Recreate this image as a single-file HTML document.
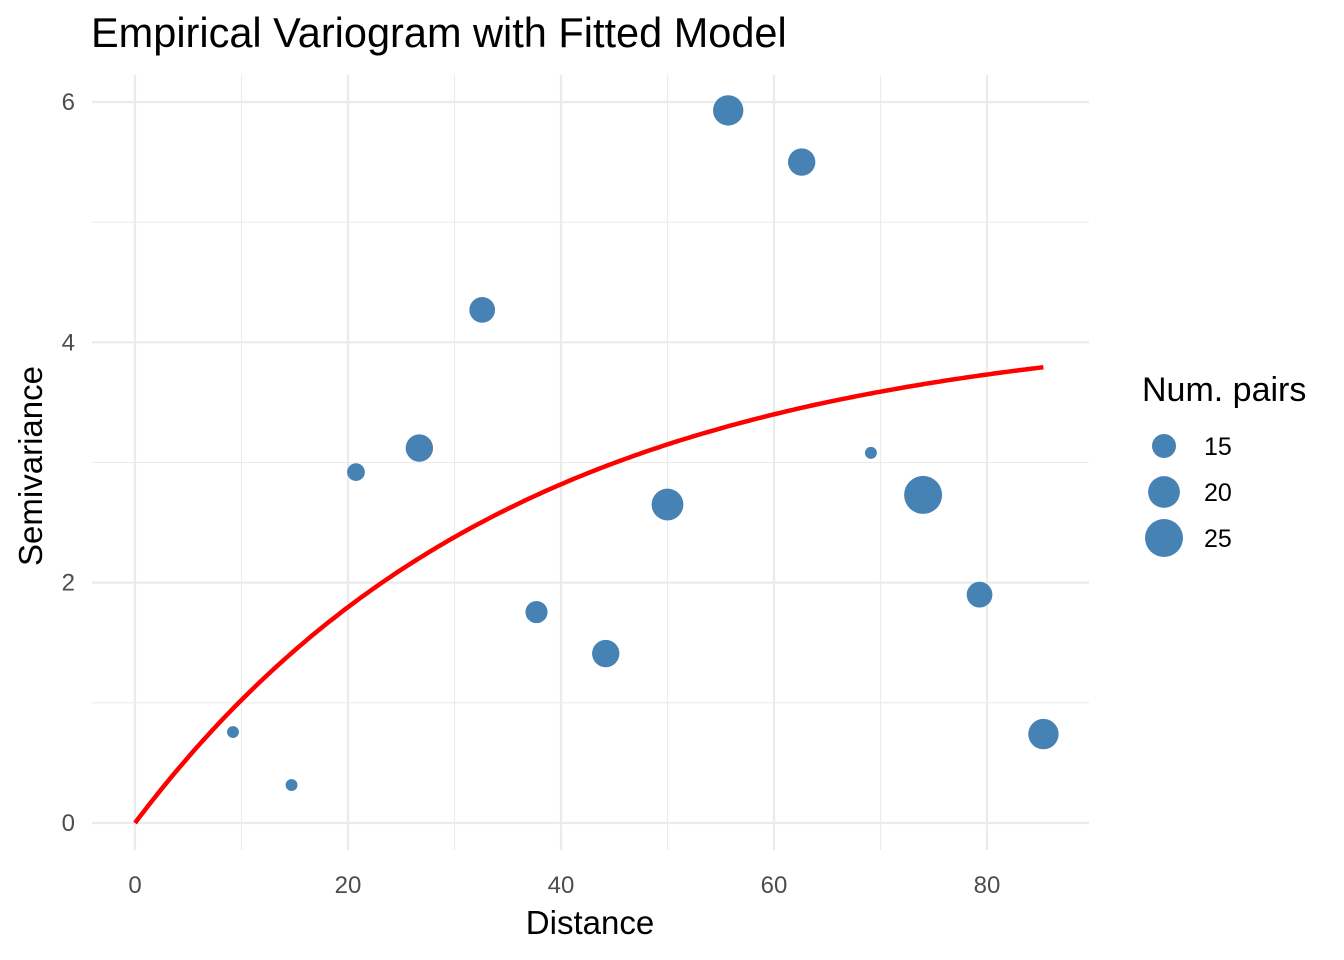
<!DOCTYPE html>
<html><head><meta charset="utf-8"><style>
body{margin:0;background:#fff;}
svg{display:block;font-family:"Liberation Sans",sans-serif;}
</style></head><body>
<svg id="chart" width="1344" height="960">
<text x="91" y="47" style="font-size:41.5px" fill="#000">Empirical Variogram with Fitted Model</text>
<g id="grid"></g><g id="curve"></g><g id="pts"></g><g id="axes"></g>
<text x="590" y="934" style="font-size:33px" text-anchor="middle" fill="#000">Distance</text>
<text transform="translate(42,466) rotate(-90)" style="font-size:33px" text-anchor="middle" fill="#000">Semivariance</text>
<g id="legend">
<text x="1142" y="401" style="font-size:34px" fill="#000">Num. pairs</text>
</g>
</svg>
<script>
const dist=[9.2,14.7,20.75,26.7,32.6,37.7,44.2,50.0,55.7,62.6,69.1,74.0,79.3,85.3];
const gamma=[0.757,0.316,2.92,3.12,4.27,1.755,1.41,2.65,5.93,5.50,3.08,2.73,1.90,0.74];
const npairs=[10,10,12,17,16,14,17,20,19,17,10,25,16,19];
const xTicks=[0,20,40,60,80];
const yTicks=[0,2,4,6];
const legendVals=[15,20,25];
const sill=4.17, range=35.5, hMax=85.3;
const NS="http://www.w3.org/2000/svg";
const X=v=>135+v*10.65, Y=v=>823-v*120.17;
const R=n=>Math.sqrt(Math.max(16,144+21.7*(n-15)));
function mk(p,tag,a){const e=document.createElementNS(NS,tag);for(const k in a)e.setAttribute(k,a[k]);document.getElementById(p).appendChild(e);return e;}
for(let v=0;v<=80;v+=10){const e=mk('grid','line',{x1:X(v),x2:X(v),y1:75,y2:850,stroke:'#ebebeb','stroke-width':v%20===0?2.2:1.1});

}
for(let v=0;v<=6;v+=1){const e=mk('grid','line',{x1:92,x2:1089,y1:Y(v),y2:Y(v),stroke:'#ebebeb','stroke-width':v%2===0?2.2:1.1});

}
xTicks.forEach(t=>{const e=mk('axes','text',{x:X(t),y:893,fill:'#4d4d4d','text-anchor':'middle',style:'font-size:24px'});e.textContent=t;

});
yTicks.forEach(t=>{const e=mk('axes','text',{x:75,y:Y(t)+8,fill:'#4d4d4d','text-anchor':'end',style:'font-size:24px'});e.textContent=t;

});
let d='';const N=200;for(let i=0;i<=N;i++){const h=hMax*i/N;d+=(i?'L':'M')+X(h).toFixed(1)+','+Y(sill*(1-Math.exp(-h/range))).toFixed(1);}
const c=mk('curve','path',{d:d,fill:'none',stroke:'#ff0000','stroke-width':4.5});


dist.forEach((x,i)=>{const e=mk('pts','circle',{cx:X(x),cy:Y(gamma[i]),r:R(npairs[i]),fill:'#4682b4'});

});
legendVals.forEach((v,i)=>{const cy=446+i*46;
const e=mk('legend','circle',{cx:1164,cy:cy,r:R(v),fill:'#4682b4'});


const t=mk('legend','text',{x:1204,y:cy+9,fill:'#000',style:'font-size:25px'});t.textContent=v;

});
</script>
</body></html>
